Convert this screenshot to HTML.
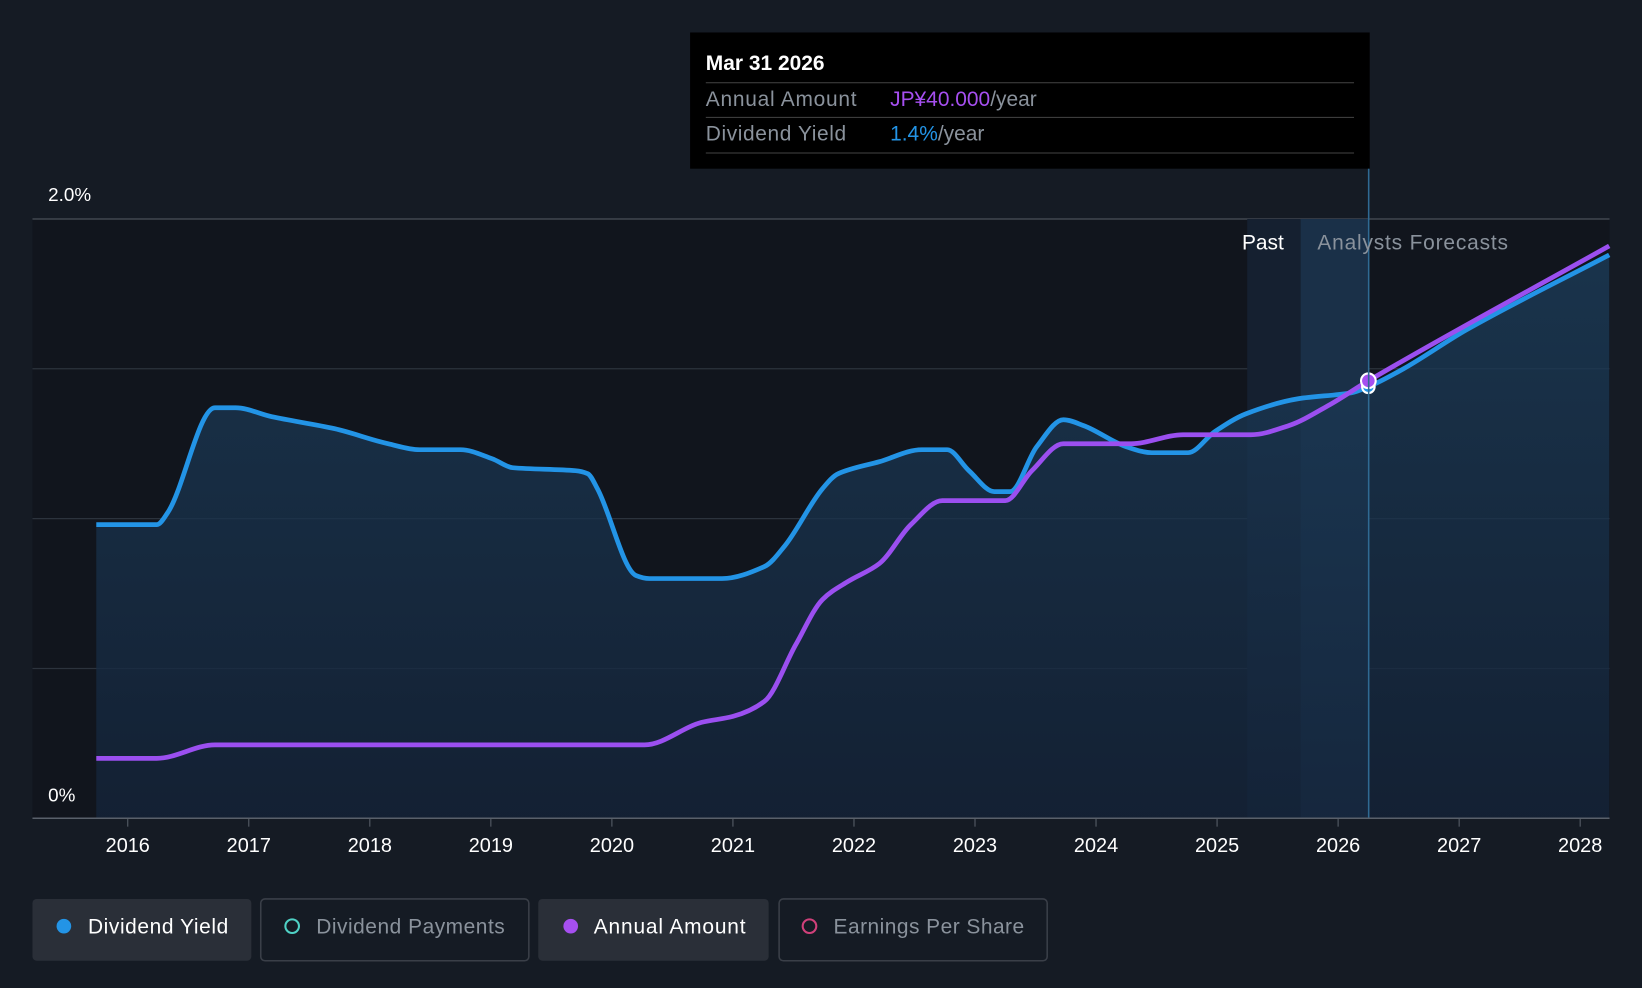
<!DOCTYPE html>
<html><head><meta charset="utf-8"><style>
html,body{margin:0;padding:0;background:#151b24;}
svg{display:block;font-family:"Liberation Sans",sans-serif;}
</style></head><body>
<svg width="1642" height="988" viewBox="0 0 1568 943" preserveAspectRatio="none">
<defs>
<linearGradient id="fillG" x1="0" y1="0" x2="0" y2="1">
<stop offset="0" stop-color="#1c3d5a" stop-opacity="0.9"/>
<stop offset="1" stop-color="#14243a" stop-opacity="0.9"/>
</linearGradient>
</defs>
<rect x="0" y="0" width="1568" height="943" fill="#151b24"/>
<rect x="31" y="209" width="1506" height="572" fill="#11151d"/>
<g id="grid"></g>
<rect x="1191" y="209" width="51" height="572" fill="#152030"/>
<rect x="1242" y="209" width="65" height="572" fill="#1a3048"/>
<g id="marks"></g>
<line x1="1307" y1="160" x2="1307" y2="781" stroke="#2f6a93" stroke-width="1.5"/>
<text x="1226" y="238" fill="#ffffff" font-size="20" text-anchor="end">Past</text>
<text x="1258" y="238" fill="#8a929c" font-size="20" textLength="182">Analysts Forecasts</text>
<text x="46" y="192" fill="#ffffff" font-size="18">2.0%</text>
<text x="46" y="765" fill="#ffffff" font-size="18">0%</text>
<line x1="31" y1="781" x2="1537" y2="781" stroke="#59606a" stroke-width="1.5"/>
<g id="xticks"></g>
<g>
<rect x="659" y="31" width="649" height="130" fill="#000000"/>
<text x="674" y="67" fill="#ffffff" font-size="20" font-weight="bold">Mar 31 2026</text>
<line x1="674" y1="79" x2="1293" y2="79" stroke="#444"/>
<text x="674" y="101" fill="#8a929c" font-size="20" textLength="144">Annual Amount</text>
<text x="850" y="101" font-size="20"><tspan fill="#a64ff0">JP¥40.000</tspan><tspan fill="#8a929c">/year</tspan></text>
<line x1="674" y1="112" x2="1293" y2="112" stroke="#444"/>
<text x="674" y="134" fill="#8a929c" font-size="20" textLength="134">Dividend Yield</text>
<text x="850" y="134" font-size="20"><tspan fill="#2394e6">1.4%</tspan><tspan fill="#8a929c">/year</tspan></text>
<line x1="674" y1="146" x2="1293" y2="146" stroke="#444"/>
</g>
<g>
<g>
<rect x="31" y="858" width="209" height="59" rx="4" fill="#2a2f38"/>
<circle cx="61" cy="884" r="7" fill="#2394e6"/>
<text x="84" y="891" fill="#ffffff" font-size="20" textLength="134">Dividend Yield</text></g>
<g>
<rect x="249" y="858" width="256" height="59" rx="4" fill="none" stroke="#3a3f48" stroke-width="1.5"/>
<circle cx="279" cy="884" r="6.5" fill="none" stroke="#4fd1c5" stroke-width="2"/>
<text x="302" y="891" fill="#8a929c" font-size="20" textLength="180">Dividend Payments</text></g>
<g>
<rect x="514" y="858" width="220" height="59" rx="4" fill="#2a2f38"/>
<circle cx="545" cy="884" r="7" fill="#a64ff0"/>
<text x="567" y="891" fill="#ffffff" font-size="20" textLength="145">Annual Amount</text></g>
<g>
<rect x="744" y="858" width="256" height="59" rx="4" fill="none" stroke="#3a3f48" stroke-width="1.5"/>
<circle cx="773" cy="884" r="6.5" fill="none" stroke="#d0407a" stroke-width="2"/>
<text x="796" y="891" fill="#8a929c" font-size="20" textLength="182">Earnings Per Share</text></g>
</g>
</svg>
<script>
const tickYears=[2016,2017,2018,2019,2020,2021,2022,2023,2024,2025,2026,2027,2028];
const gridValues=[0.5,1.0,1.5,2.0];
const yieldYears=[2015.74,2016.24,2016.33,2016.72,2016.89,2017.19,2017.71,2018.15,2018.41,2018.75,2019.01,2019.18,2019.70,2019.80,2019.88,2020.20,2020.31,2020.91,2021.26,2021.43,2021.74,2021.87,2022.21,2022.56,2022.77,2022.95,2023.16,2023.29,2023.51,2023.73,2023.90,2024.25,2024.46,2024.76,2024.98,2025.24,2025.67,2026.11,2026.25,2026.54,2027.06,2028.24];
const yieldValues=[0.98,0.98,1.02,1.37,1.37,1.34,1.30,1.25,1.23,1.23,1.20,1.17,1.16,1.15,1.10,0.81,0.80,0.80,0.84,0.91,1.10,1.15,1.19,1.23,1.23,1.16,1.09,1.09,1.24,1.33,1.31,1.24,1.22,1.22,1.29,1.35,1.40,1.42,1.44,1.50,1.63,1.88];
const amountYears=[2015.74,2016.24,2016.72,2020.27,2020.74,2021.0,2021.26,2021.52,2021.74,2021.95,2022.21,2022.47,2022.73,2023.25,2023.47,2023.73,2024.29,2024.72,2025.28,2025.59,2025.93,2026.25,2028.24];
const amountValues=[0.20,0.20,0.245,0.245,0.32,0.34,0.39,0.58,0.73,0.79,0.85,0.98,1.06,1.06,1.16,1.25,1.25,1.28,1.28,1.31,1.38,1.46,1.91];
const hoverYear=2026.25;
const NS='http://www.w3.org/2000/svg';
function xS(t){return 122+(t-2016)*115.58;}
function yS(v){return 781-v*286;}
function mk(tag,attrs,parent){const e=document.createElementNS(NS,tag);for(const k in attrs)e.setAttribute(k,attrs[k]);parent.appendChild(e);return e;}
function path(xs,ys){
  const n=xs.length,p=xs.map(xS),q=ys.map(yS);const m=[],d=[];
  for(let i=0;i<n-1;i++)d.push((q[i+1]-q[i])/(p[i+1]-p[i]));
  for(let i=0;i<n;i++){if(i==0)m.push(d[0]);else if(i==n-1)m.push(d[n-2]);else m.push(d[i-1]*d[i]<=0?0:(2*d[i-1]*d[i])/(d[i-1]+d[i]));}
  let s='M'+p[0]+','+q[0];
  for(let i=0;i<n-1;i++){const h=(p[i+1]-p[i])/3;s+=' C'+(p[i]+h)+','+(q[i]+m[i]*h)+' '+(p[i+1]-h)+','+(q[i+1]-m[i+1]*h)+' '+p[i+1]+','+q[i+1];}
  return s;
}
const grid=document.getElementById('grid');
gridValues.forEach(v=>{const l=mk('line',{x1:31,x2:1537,y1:yS(v),y2:yS(v),stroke:v==2?'#4a5059':'#2c333d','stroke-width':1.2},grid);

});
const xt=document.getElementById('xticks');
tickYears.forEach(t=>{const l=mk('line',{x1:xS(t),x2:xS(t),y1:781,y2:789,stroke:'#59606a'},xt);


const tx=mk('text',{x:xS(t),y:813,fill:'#ffffff','font-size':19,'text-anchor':'middle'},xt);tx.textContent=t;

});
const marks=document.getElementById('marks');
const yp=path(yieldYears,yieldValues);
const area=mk('path',{d:yp+' L'+xS(yieldYears[yieldYears.length-1])+',781 L'+xS(yieldYears[0])+',781 Z',fill:'url(#fillG)','fill-opacity':0.85},marks);


const yl=mk('path',{d:yp,fill:'none',stroke:'#2394e6','stroke-width':4.5,'stroke-linejoin':'round'},marks);


const al=mk('path',{d:path(amountYears,amountValues),fill:'none',stroke:'#9b4ff0','stroke-width':4.5,'stroke-linejoin':'round'},marks);


function interp(xs,ys,t){for(let i=0;i<xs.length-1;i++)if(t>=xs[i]&&t<=xs[i+1])return ys[i]+(ys[i+1]-ys[i])*(t-xs[i])/(xs[i+1]-xs[i]);return ys[ys.length-1];}
const c1=mk('circle',{cx:xS(hoverYear),cy:yS(interp(yieldYears,yieldValues,hoverYear)),r:6,fill:'#2394e6',stroke:'#fff','stroke-width':2},marks);


const c2=mk('circle',{cx:xS(hoverYear),cy:yS(interp(amountYears,amountValues,hoverYear)),r:7,fill:'#a64ff0',stroke:'#fff','stroke-width':2},marks);


</script>
</body></html>
